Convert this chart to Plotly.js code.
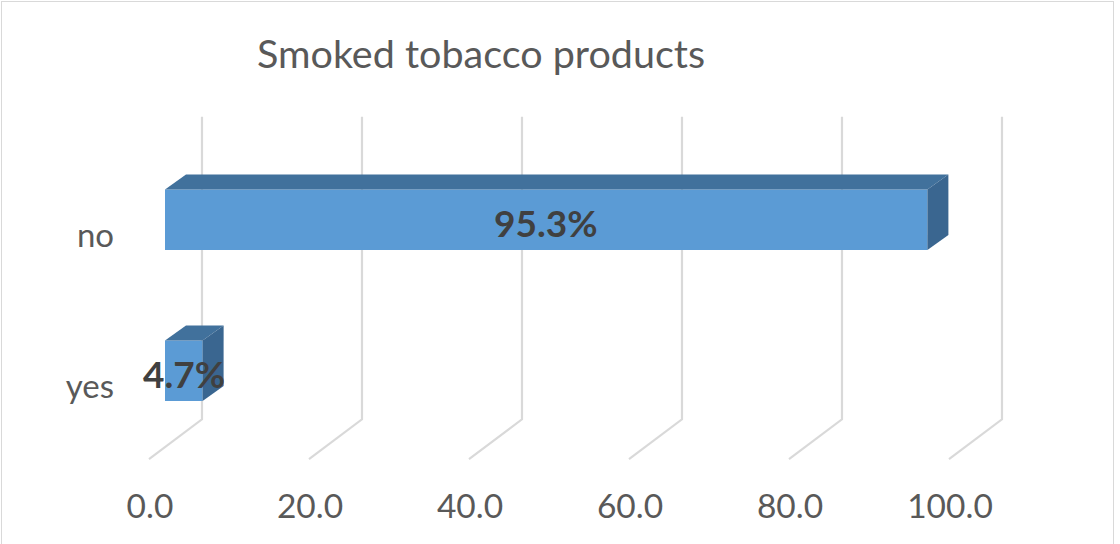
<!DOCTYPE html>
<html>
<head>
<meta charset="utf-8">
<script src="https://cdn.plot.ly/plotly-3.0.1.min.js"></script>
<style>
  html, body { margin: 0; padding: 0; background: #ffffff; }
  #wrap { position: relative; width: 1120px; height: 544px; overflow: hidden; }
  #chart { width: 1120px; height: 544px; }
  #frame { position: absolute; left: 1px; top: 1px; width: 1113px; height: 560px;
           border: 1.5px solid #d9d9d9; pointer-events: none; box-sizing: border-box; }
</style>
</head>
<body>
<div id="wrap">
  <div id="chart"></div>
  <div id="frame"></div>
</div>
<script>
// ---- data ----
const categories = ['yes', 'no'];
const positions = [0, 1];
const values = [4.7, 95.3];
const xTickVals = [0, 20, 40, 60, 80, 100];
const titleText = 'Smoked tobacco products';

// ---- style / 3D geometry constants ----
const barWidth = 0.4;
const depthX = 2.625;     // depth offset of bar faces (x units)
const depthY = 0.099;     // depth offset of bar faces (y units)
const wallX = 4.625;      // back wall offset (x units)
const floorX = -2;        // floor front offset (x units)
const wallTop = 1.682, wallBottom = -0.322, floorFront = -0.585;
const FONT = 'Lato, "Open Sans", sans-serif';

const traces = [];

// front faces
traces.push({
  type: 'bar', orientation: 'h',
  x: values, y: positions, width: barWidth,
  marker: { color: '#5B9BD5', line: { width: 0 } },
  hoverinfo: 'x+y', showlegend: false
});

// top & side faces from data
values.forEach((v, i) => {
  const yt = positions[i] + barWidth / 2;
  const yb = positions[i] - barWidth / 2;
  traces.push({
    type: 'scatter', mode: 'lines', fill: 'toself',
    x: [0, v, v + depthX, depthX, 0],
    y: [yt, yt, yt + depthY, yt + depthY, yt],
    line: { width: 0 }, fillcolor: '#41719C',
    hoverinfo: 'skip', showlegend: false
  });
  traces.push({
    type: 'scatter', mode: 'lines', fill: 'toself',
    x: [v, v + depthX, v + depthX, v, v],
    y: [yb, yb + depthY, yt + depthY, yt, yb],
    line: { width: 0 }, fillcolor: '#3A6690',
    hoverinfo: 'skip', showlegend: false
  });
});

// gridlines (back wall + floor) as shapes below traces
const shapes = xTickVals.map(t => ({
  type: 'path', xref: 'x', yref: 'y', layer: 'below',
  path: `M ${t + wallX},${wallTop} L ${t + wallX},${wallBottom} L ${t + floorX},${floorFront}`,
  line: { color: '#D9D9D9', width: 2.2 }
}));

// data labels
const annotations = values.map((v, i) => ({
  x: v / 2, y: positions[i], xref: 'x', yref: 'y',
  text: '<b>' + v.toFixed(1) + '%</b>', showarrow: false,
  font: { family: FONT, size: 37, color: '#404040' },
  xanchor: 'center', yanchor: 'middle', yshift: -3
}));

const layout = {
  width: 1120, height: 544,
  margin: { l: 120, r: 110, t: 110, b: 74, pad: 0 },
  paper_bgcolor: '#ffffff', plot_bgcolor: 'rgba(0,0,0,0)',
  title: {
    text: titleText, xref: 'container', yref: 'container',
    x: 0.4295, xanchor: 'center', y: 0.90, yanchor: 'middle',
    font: { family: FONT, size: 39.5, color: '#595959' }
  },
  xaxis: {
    range: [-5.625, 105.625], tickvals: xTickVals, tickformat: '.1f',
    showgrid: false, zeroline: false, showline: false, ticks: '',
    ticklabelshift: -15, ticklabelstandoff: 13,
    tickfont: { family: FONT, size: 33.5, color: '#595959' }, fixedrange: true
  },
  yaxis: {
    range: [-0.6576, 1.7265], tickvals: positions, ticktext: categories,
    showgrid: false, zeroline: false, showline: false, ticks: '',
    ticklabelshift: 16, ticklabelstandoff: 5,
    tickfont: { family: FONT, size: 33, color: '#595959' }, fixedrange: true
  },
  shapes: shapes,
  annotations: annotations,
  showlegend: false
};

Plotly.newPlot('chart', traces, layout, { displayModeBar: false, staticPlot: true });
</script>
</body>
</html>
